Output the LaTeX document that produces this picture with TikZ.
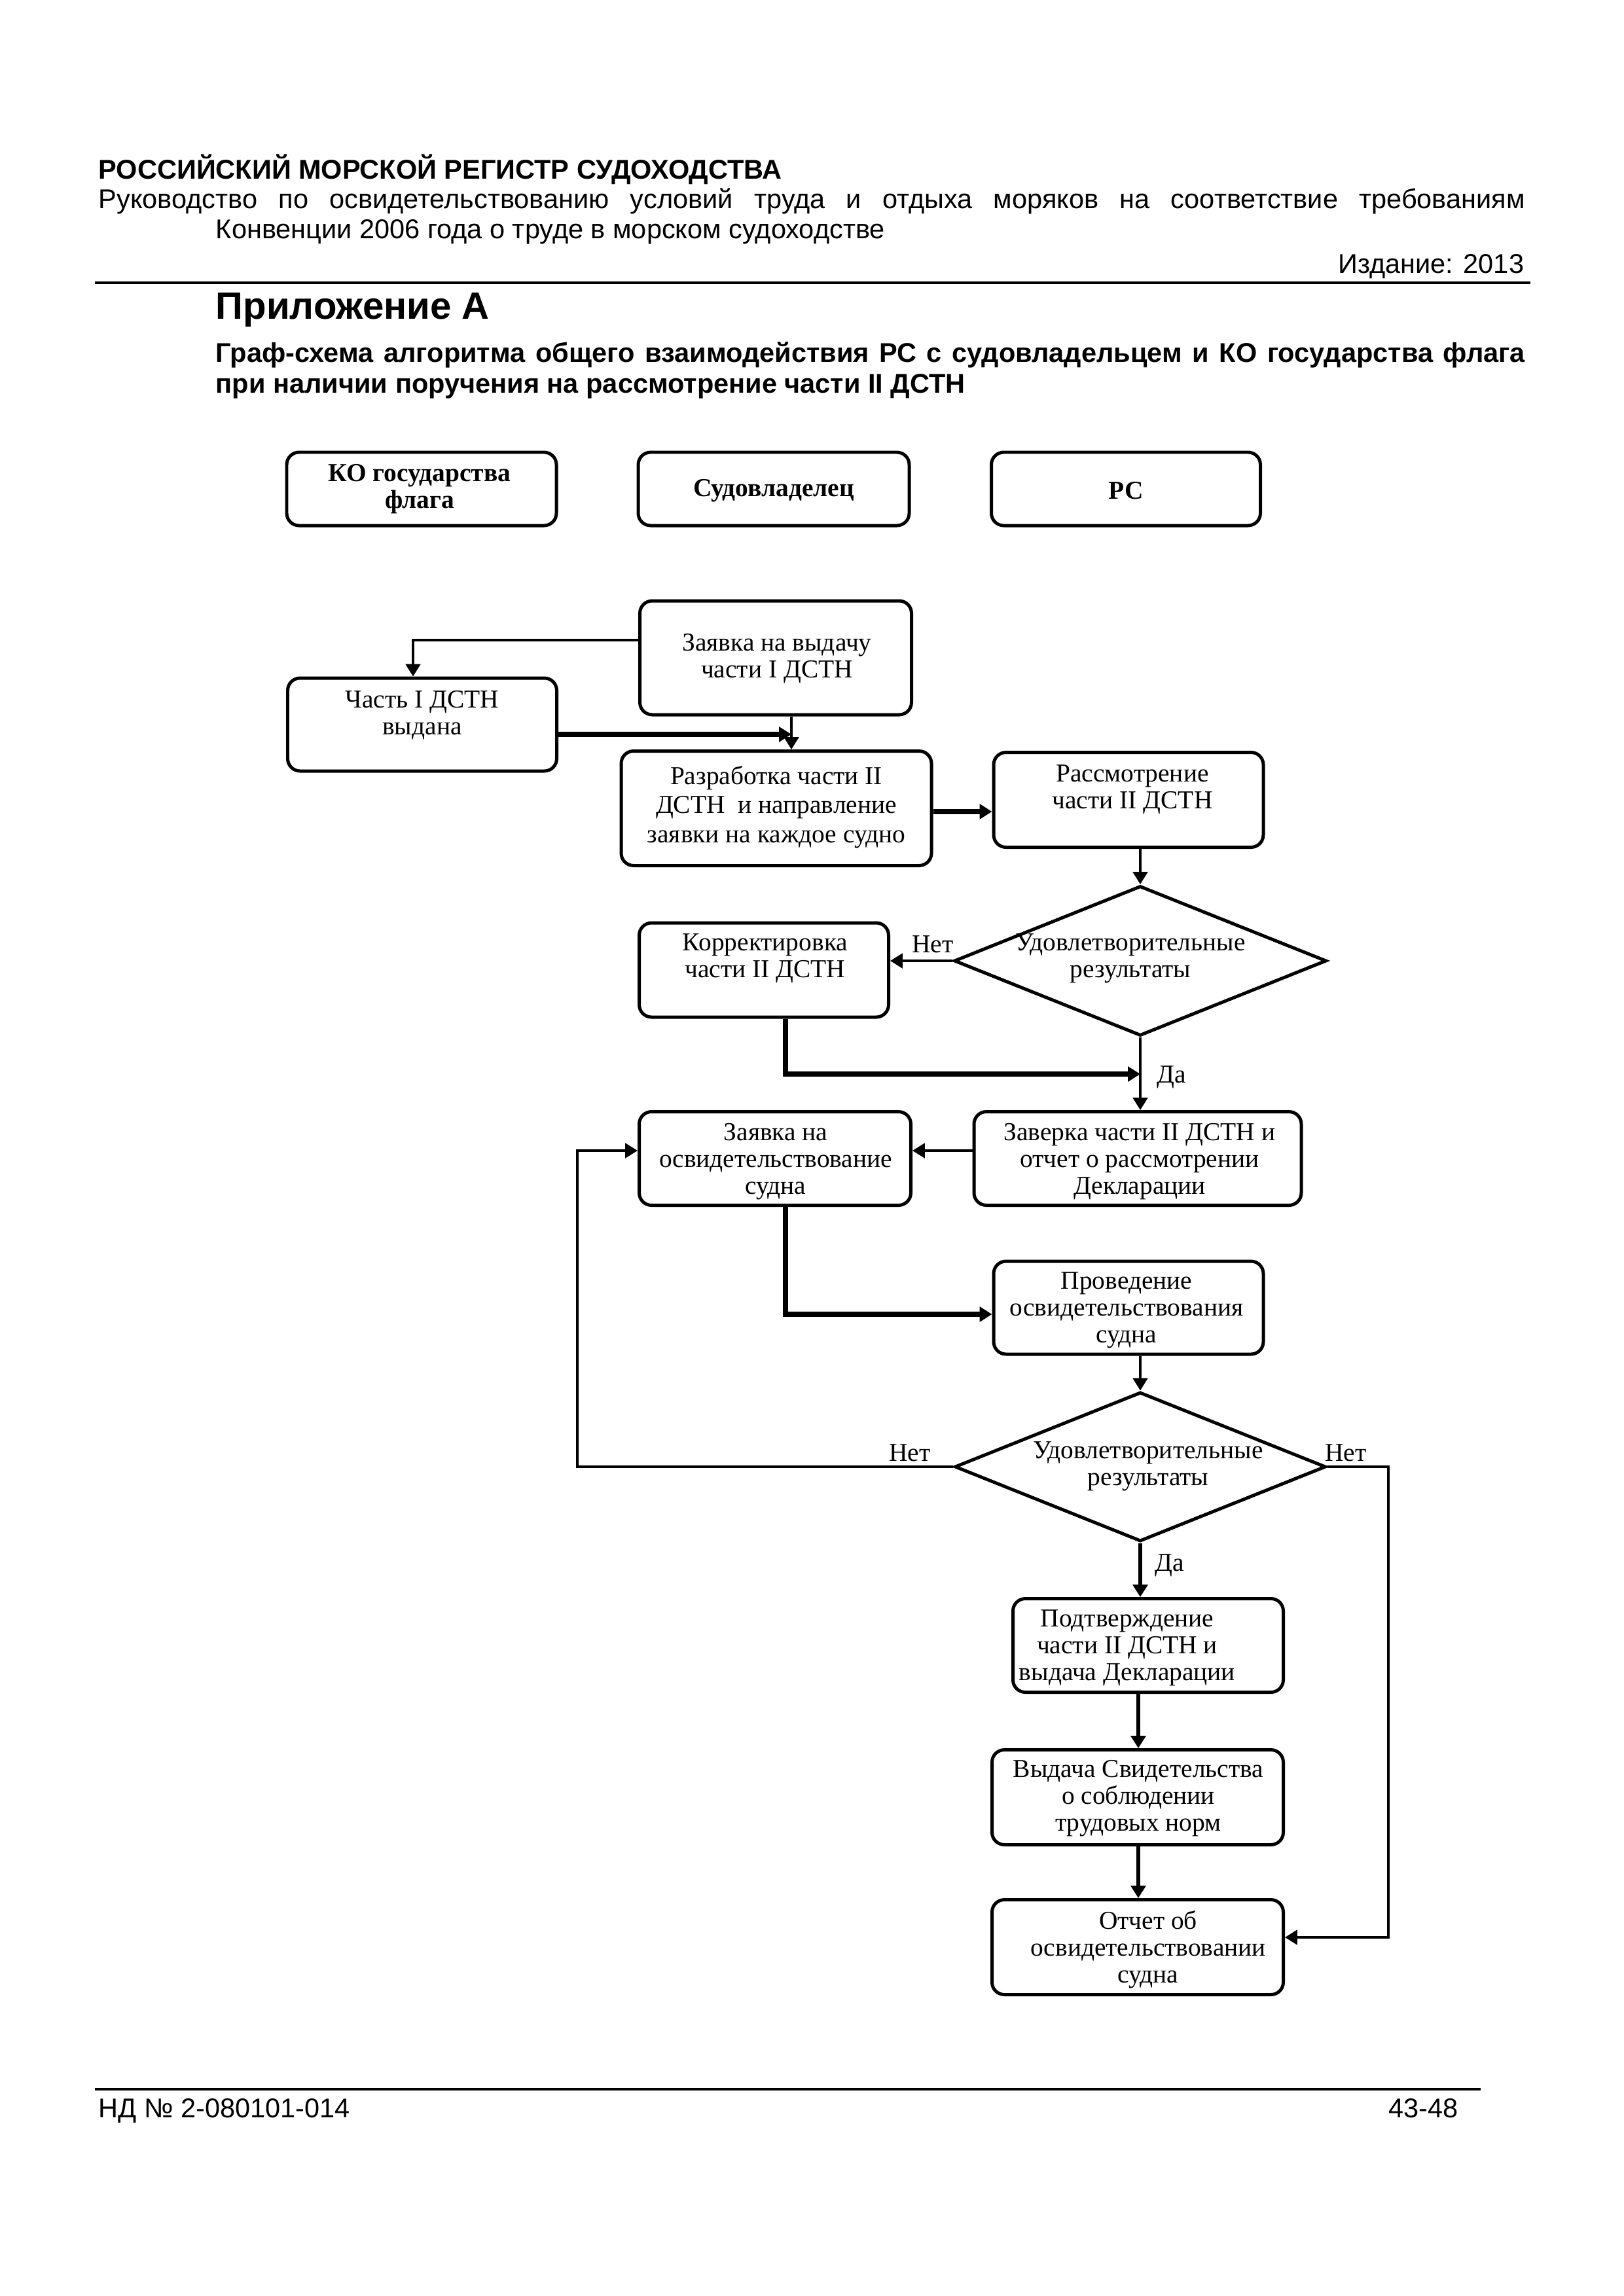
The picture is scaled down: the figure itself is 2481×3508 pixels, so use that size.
\documentclass[tikz,border=0pt]{standalone}
\usepackage{fontspec}
\setmainfont{Liberation Serif}
\newfontfamily\hsans{Liberation Sans}
\usetikzlibrary{arrows.meta,shapes.geometric}
\def\PU{0.0846667mm}
\tikzset{
  box/.style 2 args={draw, line width=1.2pt, rounded corners=1.6mm, minimum width=#1*\PU, minimum height=#2*\PU, inner sep=0pt},
  dia/.style 2 args={draw, diamond, line width=1.2pt, minimum width=#1*\PU, minimum height=#2*\PU, inner sep=0pt},
  txt/.style={align=center, inner sep=0pt, font=\fontsize{9.5}{9.9}\selectfont},
  btxt/.style={align=center, inner sep=0pt, font=\bfseries\fontsize{9.5}{9.9}\selectfont},
  lbl/.style={inner sep=0pt, font=\fontsize{9.5}{9.9}\selectfont},
  hdr/.style={inner sep=0pt, anchor=base west, font=\hsans\fontsize{10}{12}\selectfont},
  tip/.style={-{Triangle[length=1.6mm,width=1.9mm]}},
  arr/.style={tip, line width=0.9pt},
  marr/.style={tip, line width=1.3pt},
  tarr/.style={tip, line width=1.7pt},
  rule/.style={line width=0.75pt}
}
\begin{document}
\begin{tikzpicture}[x=0.0846667mm, y=-0.0846667mm]
\useasboundingbox (0,0) rectangle (2481,3508);
% header
\node[hdr, font=\hsans\bfseries\fontsize{10}{12}\selectfont] (h1) at (150,273) {РОССИЙСКИЙ МОРСКОЙ РЕГИСТР СУДОХОДСТВА};
\node[hdr] (h2) at (150,318) {\makebox[\dimexpr0.0846667mm*2179\relax][s]{Руководство по освидетельствованию условий труда и отдыха моряков на соответствие требованиям}};
\node[hdr] (h3) at (329,364) {Конвенции 2006 года о труде в морском судоходстве};
\node[hdr, anchor=base east] (h4) at (2329,417) {Издание: 2013};
\coordinate (r1a) at (145,432);
\coordinate (r1b) at (2338,432);
\draw[rule] (r1a) -- (r1b);
\node[hdr, font=\hsans\bfseries\fontsize{14}{16}\selectfont] (app) at (329,487) {Приложение А};
\node[hdr, font=\hsans\bfseries\fontsize{10}{12}\selectfont] (t1) at (329,553) {\makebox[\dimexpr0.0846667mm*2000\relax][s]{Граф-схема алгоритма общего взаимодействия РС с судовладельцем и КО государства флага}};
\node[hdr, font=\hsans\bfseries\fontsize{10}{12}\selectfont] (t2) at (329,600) {при наличии поручения на рассмотрение части II ДСТН};
% footer
\coordinate (r2a) at (145,3192);
\coordinate (r2b) at (2262,3192);
\draw[rule] (r2a) -- (r2b);
\node[hdr] (f1) at (150,3235) {НД № 2-080101-014};
\node[hdr, anchor=base east] (f2) at (2228,3235) {43-48};

% top row
\node[box={412}{112}] (ko) at (644,747) {};
\node[btxt] at (641,747) {КО государства\\флага};
\node[box={414}{112}] (sv) at (1182,747) {};
\node[btxt] at (1182,750) {Судовладелец};
\node[box={411}{112}] (rs) at (1720,747) {};
\node[btxt] at (1720,750) {РС};

% flow
\node[box={415}{174}] (zv) at (1185,1005) {};
\node[txt] at (1187,1006) {Заявка на выдачу\\части I ДСТН};
\node[box={411}{142}] (ch) at (645,1107) {};
\node[txt] at (645,1093) {Часть I ДСТН\\выдана};
\node[box={474}{175}] (rz) at (1186,1235) {};
\node[txt, font=\fontsize{9.5}{10.8}\selectfont] at (1186,1233) {Разработка части II\\ДСТН~ и направление\\заявки на каждое судно};
\node[box={412}{145}] (rm) at (1724,1222) {};
\node[txt] at (1730,1206) {Рассмотрение\\части II ДСТН};
\node[dia={569}{229}] (d1) at (1742,1468) {};
\node[txt] at (1727,1464) {Удовлетворительные\\результаты};
\node[box={381}{144}] (kr) at (1167,1482) {};
\node[txt] at (1169,1464) {Корректировка\\части II ДСТН};
\node[lbl] (n1) at (1425,1443) {Нет};
\node[box={500}{143}] (zr) at (1738,1770) {};
\node[txt] at (1741,1775) {Заверка части II ДСТН и\\отчет о рассмотрении\\Декларации};
\node[box={415}{143}] (zo) at (1184,1770) {};
\node[txt] at (1185,1775) {Заявка на\\освидетельствование\\судна};
\node[lbl] (y1) at (1790,1646) {Да};
\node[box={412}{142}] (pr) at (1724,1998) {};
\node[txt] at (1721,2002) {Проведение\\освидетельствования\\судна};
\node[dia={567}{228}] (d2) at (1742,2241) {};
\node[txt] at (1754,2240) {Удовлетворительные\\результаты};
\node[lbl] (n2) at (1390,2220) {Нет};
\node[lbl] (n3) at (2056,2220) {Нет};
\node[lbl] (y2) at (1787,2392) {Да};
\node[box={413}{143}] (pd) at (1754,2514) {};
\node[txt] at (1722,2518) {Подтверждение\\части II ДСТН и\\выдача Декларации};
\node[box={445}{145}] (vs) at (1738,2746) {};
\node[txt] at (1739,2748) {Выдача Свидетельства\\о соблюдении\\трудовых норм};
\node[box={445}{145}] (ot) at (1738,2975) {};
\node[txt] at (1754,2979) {Отчет об\\освидетельствовании\\судна};

% connectors
\coordinate (j1) at (1209,1122);
\coordinate (j2) at (1742,1641);
\draw[arr] (zv.west |- 0,978) -| (ch.north -| 631,0);
\draw[tarr] (ch.east |- j1) -- (j1);
\draw[arr] (zv.south -| j1) -- (rz.north -| j1);
\draw[tarr] (rz.east |- 0,1240) -- (rm.west |- 0,1240);
\draw[arr] (rm.south -| d1.north) -- (d1.north);
\draw[arr] (d1.west) -- (kr.east |- d1.west);
\draw[tarr] (kr.south -| 1200,0) |- (j2);
\draw[arr] (d1.south) -- (zr.north -| d1.south);
\draw[arr] (zr.west |- 0,1758) -- (zo.east |- 0,1758);
\draw[tarr] (zo.south -| 1200,0) |- (pr.west |- 0,2008);
\draw[arr] (pr.south -| d2.north) -- (d2.north);
\draw[arr] (d2.west) -- (882,2241) |- (zo.west |- 0,1758);
\draw[arr] (d2.east) -- (2121,2241) |- (ot.east |- 0,2960);
\draw[marr] (d2.south) -- (pd.north -| d2.south);
\draw[marr] (pd.south -| 1739,0) -- (vs.north -| 1739,0);
\draw[marr] (vs.south -| 1739,0) -- (ot.north -| 1739,0);
\end{tikzpicture}
\end{document}
